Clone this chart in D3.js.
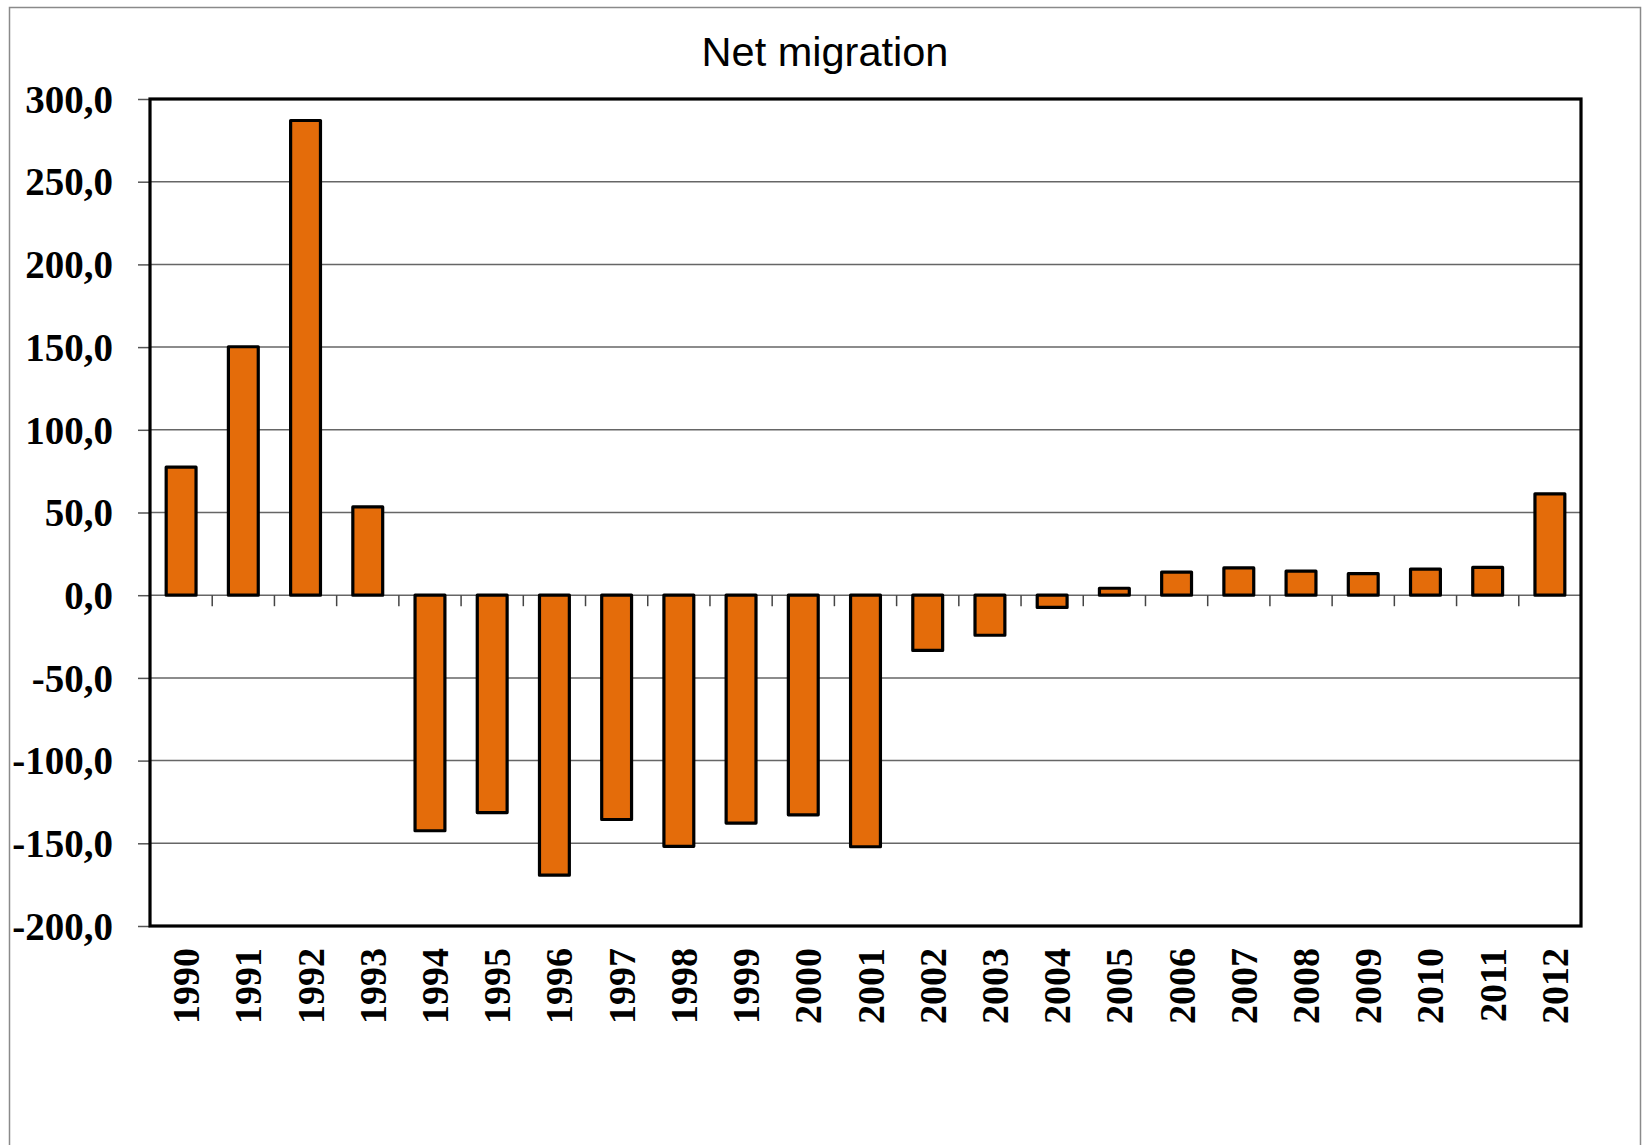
<!DOCTYPE html>
<html>
<head>
<meta charset="utf-8">
<script src="https://cdn.jsdelivr.net/npm/d3@7"></script>
<style>
  html, body { margin: 0; padding: 0; background: #fff; }
  svg { display: block; }
</style>
</head>
<body>
<svg id="chart" width="1642" height="1145"></svg>
<script>
// Net migration by year (thousands)
const years = ["1990","1991","1992","1993","1994","1995","1996","1997","1998","1999","2000","2001",
               "2002","2003","2004","2005","2006","2007","2008","2009","2010","2011","2012"];
const netMigration = [77.4, 150.2, 287.0, 53.4, -142.4, -131.4, -169.3, -135.6, -151.8, -137.8, -132.8, -152.1,
                      -33.4, -24.2, -7.4, 4.2, 14.0, 16.5, 14.5, 13.0, 15.8, 16.8, 61.3];
const yTicks = [-200, -150, -100, -50, 0, 50, 100, 150, 200, 250, 300];
const chartTitle = "Net migration";

const svg = d3.select("#chart");
const plot = { left: 150, right: 1581, top: 99, bottom: 926 };

const locale = d3.formatLocale({ decimal: ",", thousands: "", grouping: [3], currency: ["", ""], minus: "-" });
const fmt = locale.format(".1f");

const x = d3.scaleBand()
  .domain(years)
  .range([plot.left, plot.right])
  .paddingInner(0.52)
  .paddingOuter(0.26);

const y = d3.scaleLinear()
  .domain([-200, 300])
  .range([plot.bottom, plot.top]);

// outer chart frame
svg.append("rect")
  .attr("x", 9.5).attr("y", 7.5)
  .attr("width", 1631).attr("height", 1200)
  .attr("fill", "none")
  .attr("stroke", "#8a8a8a")
  .attr("stroke-width", 1.5);

// title
svg.append("text")
  .attr("x", 825).attr("y", 66)
  .attr("text-anchor", "middle")
  .attr("font-family", "'Liberation Sans', Arial, sans-serif")
  .attr("font-size", 41.5)
  .attr("fill", "#000")
  .text(chartTitle);

// horizontal gridlines
svg.append("g")
  .selectAll("line")
  .data(yTicks.filter(d => d > -200 && d < 300))
  .join("line")
  .attr("x1", plot.left).attr("x2", plot.right)
  .attr("y1", d => y(d)).attr("y2", d => y(d))
  .attr("stroke", "#666")
  .attr("stroke-width", 1.5);

// y axis ticks and labels
const yAxis = d3.axisLeft(y)
  .tickValues(yTicks)
  .tickFormat(fmt)
  .tickSize(12)
  .tickPadding(25)
  .tickSizeOuter(0);

const gy = svg.append("g")
  .attr("transform", `translate(${plot.left},0)`)
  .call(yAxis);
gy.select(".domain").remove();
gy.selectAll(".tick line").attr("stroke", "#555").attr("stroke-width", 1.5);
gy.selectAll(".tick text")
  .attr("font-family", "'Liberation Serif', 'Times New Roman', serif")
  .attr("font-weight", "bold")
  .attr("font-size", 39)
  .attr("fill", "#000")
  .attr("dy", "0.34em");

// category separator ticks below the zero line
const step = x.step();
svg.append("g")
  .selectAll("line")
  .data(d3.range(1, years.length))
  .join("line")
  .attr("x1", i => plot.left + i * step)
  .attr("x2", i => plot.left + i * step)
  .attr("y1", y(0)).attr("y2", y(0) + 11)
  .attr("stroke", "#444")
  .attr("stroke-width", 1.5);

// bars
svg.append("g")
  .selectAll("rect")
  .data(years.map((yr, i) => ({ yr, v: netMigration[i] })))
  .join("rect")
  .attr("x", d => x(d.yr))
  .attr("width", x.bandwidth())
  .attr("y", d => y(Math.max(0, d.v)))
  .attr("height", d => Math.abs(y(d.v) - y(0)))
  .attr("fill", "#E46C0A")
  .attr("stroke", "#000")
  .attr("stroke-width", 3.2)
  .attr("stroke-linejoin", "round");

// plot area border
svg.append("rect")
  .attr("x", plot.left).attr("y", plot.top)
  .attr("width", plot.right - plot.left)
  .attr("height", plot.bottom - plot.top)
  .attr("fill", "none")
  .attr("stroke", "#000")
  .attr("stroke-width", 3.2);

// x axis labels (rotated years)
const xAxis = d3.axisBottom(x).tickSize(0).tickPadding(0);
const gx = svg.append("g")
  .attr("transform", `translate(0,${plot.bottom})`)
  .call(xAxis);
gx.select(".domain").remove();
gx.selectAll(".tick text")
  .attr("font-family", "'Liberation Serif', 'Times New Roman', serif")
  .attr("font-weight", "bold")
  .attr("font-size", 38)
  .attr("fill", "#000")
  .attr("text-anchor", "end")
  .attr("dy", null)
  .attr("y", 0)
  .attr("transform", "translate(18,22) rotate(-90)");
</script>
</body>
</html>
